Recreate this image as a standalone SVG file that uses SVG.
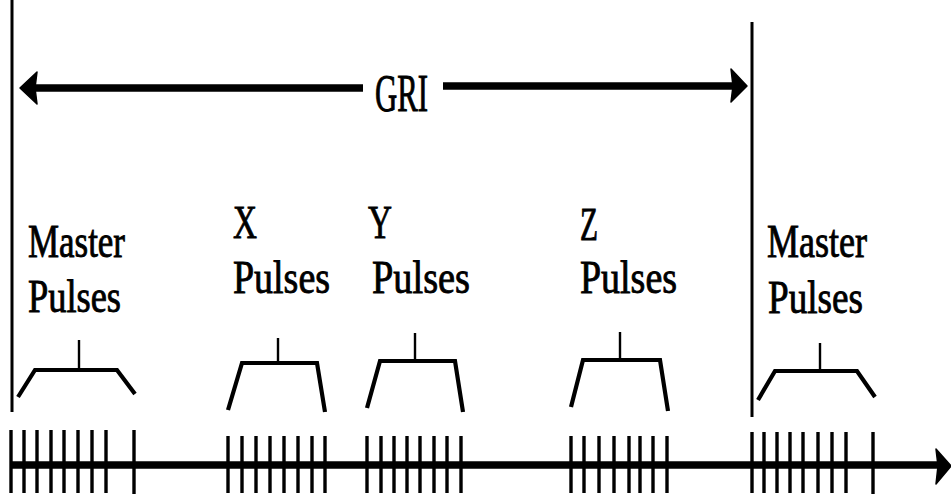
<svg xmlns="http://www.w3.org/2000/svg" width="951" height="497" viewBox="0 0 951 497">
<style>
  .lbl { font-family: "Liberation Serif", "DejaVu Serif", serif; font-size: 46px; fill: #000; stroke: #000; stroke-width: 0.9; }
  .gri { font-family: "Liberation Serif", "DejaVu Serif", serif; font-size: 52px; fill: #000; stroke: #000; stroke-width: 1; }
  .stem { stroke: #000; stroke-width: 2.4; fill: none; }
  .brk { stroke: #000; stroke-width: 4.2; fill: none; stroke-linejoin: miter; }
  .tick { stroke: #000; stroke-width: 3.4; }
  .bar { stroke: #000; stroke-width: 3; }
  .axis { stroke: #000; stroke-width: 7.5; }
</style>
<rect width="951" height="497" fill="#fff"/>

<g id="connectors">
  <!-- boundary lines -->
  <line class="bar" x1="12" y1="0" x2="12" y2="412"/>
  <line class="bar" x1="752" y1="22" x2="752" y2="417"/>
  <!-- GRI double arrow -->
  <line class="axis" x1="32" y1="88" x2="363" y2="88"/>
  <polygon points="20,88 37,72 35,88 37,104" fill="#000" stroke="#000" stroke-width="1.5" stroke-linejoin="round"/>
  <line class="axis" x1="443" y1="86" x2="735" y2="86"/>
  <polygon points="747,86 731,69 733,86 731,102" fill="#000" stroke="#000" stroke-width="1.5" stroke-linejoin="round"/>
  <!-- time axis -->
  <line class="axis" x1="10" y1="465" x2="940" y2="465"/>
  <polygon points="951,466 936,449 938,466 936,484" fill="#000" stroke="#000" stroke-width="1.5" stroke-linejoin="round"/>
</g>

<g id="gri-label">
  <text class="gri" x="375" y="111" textLength="53" lengthAdjust="spacingAndGlyphs">GRI</text>
</g>

<g id="master1">
  <text class="lbl" x="28" y="257" textLength="97" lengthAdjust="spacingAndGlyphs">Master</text>
  <text class="lbl" x="28" y="312" textLength="93" lengthAdjust="spacingAndGlyphs">Pulses</text>
  <line class="stem" x1="79" y1="340" x2="79" y2="369"/>
  <polyline class="brk" points="18,397 35,370 117,370 135,394"/>
  <g class="tick">
    <line x1="11" y1="430" x2="11" y2="493"/>
    <line x1="24" y1="430" x2="24" y2="493"/>
    <line x1="37" y1="430" x2="37" y2="493"/>
    <line x1="51" y1="430" x2="51" y2="493"/>
    <line x1="64" y1="430" x2="64" y2="493"/>
    <line x1="78" y1="430" x2="78" y2="493"/>
    <line x1="92" y1="430" x2="92" y2="493"/>
    <line x1="106" y1="430" x2="106" y2="493"/>
    <line x1="134" y1="430" x2="134" y2="494"/>
  </g>
</g>

<g id="x-pulses">
  <text class="lbl" x="233" y="238" textLength="24" lengthAdjust="spacingAndGlyphs">X</text>
  <text class="lbl" x="233" y="293" textLength="97" lengthAdjust="spacingAndGlyphs">Pulses</text>
  <line class="stem" x1="278" y1="338" x2="278" y2="363"/>
  <polyline class="brk" points="228,410 242,363 317,363 325,412"/>
  <g class="tick">
    <line x1="228" y1="436" x2="228" y2="493"/>
    <line x1="242" y1="436" x2="242" y2="493"/>
    <line x1="256" y1="436" x2="256" y2="493"/>
    <line x1="270" y1="436" x2="270" y2="493"/>
    <line x1="284" y1="436" x2="284" y2="493"/>
    <line x1="298" y1="436" x2="298" y2="493"/>
    <line x1="312" y1="436" x2="312" y2="493"/>
    <line x1="325" y1="436" x2="325" y2="493"/>
  </g>
</g>

<g id="y-pulses">
  <text class="lbl" x="368" y="238" textLength="24" lengthAdjust="spacingAndGlyphs">Y</text>
  <text class="lbl" x="372" y="293" textLength="98" lengthAdjust="spacingAndGlyphs">Pulses</text>
  <line class="stem" x1="415" y1="333" x2="415" y2="361"/>
  <polyline class="brk" points="367,408 380,361 455,361 463,412"/>
  <g class="tick">
    <line x1="367" y1="436" x2="367" y2="493"/>
    <line x1="381" y1="436" x2="381" y2="493"/>
    <line x1="394" y1="436" x2="394" y2="493"/>
    <line x1="407" y1="436" x2="407" y2="493"/>
    <line x1="420" y1="436" x2="420" y2="493"/>
    <line x1="434" y1="436" x2="434" y2="493"/>
    <line x1="447" y1="436" x2="447" y2="493"/>
    <line x1="461" y1="436" x2="461" y2="493"/>
  </g>
</g>

<g id="z-pulses">
  <text class="lbl" x="580" y="240" textLength="18" lengthAdjust="spacingAndGlyphs">Z</text>
  <text class="lbl" x="580" y="293" textLength="97" lengthAdjust="spacingAndGlyphs">Pulses</text>
  <line class="stem" x1="620" y1="332" x2="620" y2="360"/>
  <polyline class="brk" points="571,407 583,360 660,360 668,411"/>
  <g class="tick">
    <line x1="571" y1="436" x2="571" y2="493"/>
    <line x1="584" y1="436" x2="584" y2="493"/>
    <line x1="599" y1="436" x2="599" y2="493"/>
    <line x1="614" y1="436" x2="614" y2="493"/>
    <line x1="629" y1="436" x2="629" y2="493"/>
    <line x1="640" y1="436" x2="640" y2="493"/>
    <line x1="653" y1="436" x2="653" y2="493"/>
    <line x1="667" y1="436" x2="667" y2="493"/>
  </g>
</g>

<g id="master2">
  <text class="lbl" x="767" y="257" textLength="100" lengthAdjust="spacingAndGlyphs">Master</text>
  <text class="lbl" x="768" y="313" textLength="95" lengthAdjust="spacingAndGlyphs">Pulses</text>
  <line class="stem" x1="820" y1="343" x2="820" y2="371"/>
  <polyline class="brk" points="758,400 775,371 857,371 875,397"/>
  <g class="tick">
    <line x1="752" y1="432" x2="752" y2="493"/>
    <line x1="764" y1="432" x2="764" y2="493"/>
    <line x1="777" y1="432" x2="777" y2="493"/>
    <line x1="790" y1="432" x2="790" y2="493"/>
    <line x1="803" y1="432" x2="803" y2="493"/>
    <line x1="818" y1="432" x2="818" y2="493"/>
    <line x1="832" y1="432" x2="832" y2="493"/>
    <line x1="846" y1="432" x2="846" y2="493"/>
    <line x1="873" y1="432" x2="873" y2="494"/>
  </g>
</g>
</svg>
